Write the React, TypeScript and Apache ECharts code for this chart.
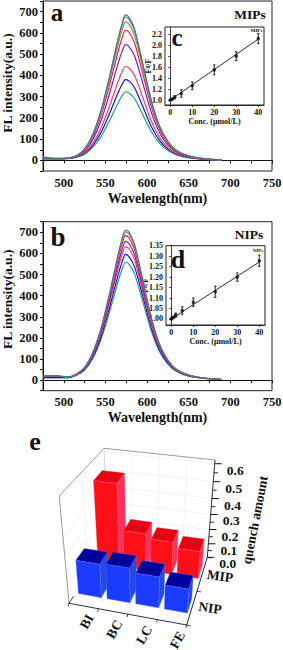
import React, { useEffect, useRef } from "react";
import * as echarts from "echarts";

const FONT = "Liberation Serif";
const wavelengths = [475,490,505,515,525,535,545,555,565,570,574,578,585,595,605,615,625,635,650,670,690];

const mip685 = [9,8,11,22,54,125,240,397,570,645,685,675,617,453,284,161,90,48,21,7,2];
const mip675 = [9,8,11,22,53,123,236,391,561,635,675,665,608,446,280,159,88,47,21,7,2];
const mip652 = [9,8,11,21,51,119,228,378,542,613,652,642,587,431,270,153,85,46,20,7,2];
const mip613 = [15,9,11,20,48,112,214,355,510,577,613,604,552,405,254,145,80,43,19,7,2];
const mip545 = [8,8,10,19,44,100,190,316,454,513,545,537,491,361,227,130,72,39,18,6,2];
const mip443 = [14,9,10,17,37,83,155,257,369,417,443,436,399,294,185,107,60,33,15,6,2];
const mip380 = [8,8,9,16,33,72,134,221,317,358,380,374,342,252,159,93,53,30,14,5,2];
const mip323 = [8,7,8,14,29,62,114,188,269,304,323,318,291,214,136,80,46,26,12,5,2];

const nip712 = [20,20,15,28,60,133,250,412,592,670,712,702,642,472,297,170,95,52,24,9,3];
const nip702 = [20,20,15,28,59,131,247,406,584,661,702,692,633,465,293,168,94,51,24,9,3];
const nip685 = [22,21,15,27,58,128,241,397,570,645,685,675,617,453,286,163,92,50,23,9,3];
const nip658 = [18,18,14,26,56,123,232,381,547,619,658,648,593,435,275,157,88,48,22,9,3];
const nip632 = [22,20,14,25,54,118,223,366,526,595,632,623,570,418,264,151,85,46,21,8,3];
const nip595 = [12,12,12,24,51,111,209,345,495,560,595,586,536,394,249,143,80,44,20,8,3];
const nip558 = [12,12,11,23,48,104,197,323,464,525,558,550,503,369,234,134,76,42,19,8,3];

const mipCurves = [mip323, mip380, mip443, mip545, mip613, mip652, mip675, mip685];
const mipColors = ["#1fa07a", "#1414c8", "#f2405f", "#6a1fd0", "#f01f3f", "#7f9a55", "#6f8f9a", "#566f80"];
const nipCurves = [nip558, nip595, nip632, nip658, nip685, nip702, nip712];
const nipColors = ["#1fa07a", "#1414c8", "#f2405f", "#6a1fd0", "#f01f3f", "#7f9a70", "#566f80"];

const conc = [0, 0.5, 1, 2, 5, 10, 20, 30, 40];
const f0fMip = [1.0, 1.01, 1.02, 1.05, 1.12, 1.26, 1.55, 1.8, 2.12];
const errMip = [0.01, 0.01, 0.015, 0.03, 0.07, 0.07, 0.09, 0.08, 0.09];
const fitMip = [[0, 1.0], [40, 2.11]];
const f0fNip = [1.0, 1.005, 1.008, 1.018, 1.04, 1.08, 1.13, 1.2, 1.278];
const errNip = [0.003, 0.003, 0.005, 0.01, 0.018, 0.02, 0.027, 0.02, 0.027];
const fitNip = [[0, 1.0], [40, 1.272]];

const compounds = ["BI", "BC", "LC", "FE"];
const mipQuench = [0.53, 0.25, 0.22, 0.185];
const nipQuench = [0.22, 0.225, 0.2, 0.155];
const depthNames = ["NIP", "MIP"];
const quenchTicks = [0, 0.1, 0.2, 0.3, 0.4, 0.5, 0.6];

// 3D frame of panel e, in page pixels
const Q = {
  flb: [69, 603.3], frb: [186.7, 625], brb: [207.3, 557.3], blb: [107.8, 543],
  flt: [59.3, 496], frt: [193.3, 513], brt: [215, 460], blt: [104, 448.3],
};
const W_MAX = 0.62;
const mix = (a: number[], b: number[], t: number) => [a[0] + (b[0] - a[0]) * t, a[1] + (b[1] - a[1]) * t];
const persp = (t: number) => (t * (1 - 0.162)) / (1 - 0.162 * t);
function project(u: number, v: number, t: number) {
  const h = persp(t);
  const bottom = mix(mix(Q.flb, Q.frb, u), mix(Q.blb, Q.brb, u), v);
  const top = mix(mix(Q.flt, Q.frt, u), mix(Q.blt, Q.brt, u), v);
  return mix(bottom, top, h);
}

const E_GRID = { left: 69, top: 458, width: 118, height: 100 };
const DEPTH_RANGE: Record<number, number[]> = { 0: [0.17, 0.38], 1: [0.68, 0.88] };
const BAR_COLORS: Record<number, { front: string; top: string; side: string; edge: string }> = {
  0: { front: "#1a3cff", top: "#00009a", side: "#2648e8", edge: "#5a6ae0" },
  1: { front: "#ff1018", top: "#e60014", side: "#ff2f62", edge: "#e0505a" },
};

function renderBar(params: any, api: any) {
  const cat = api.value(0);
  const value = api.value(1);
  const row = api.value(2);
  const [gx0] = api.coord([cat + 0.1, 0]);
  const [gx1, gy] = api.coord([cat + 0.9, value]);
  const u0 = (gx0 - E_GRID.left) / E_GRID.width;
  const u1 = (gx1 - E_GRID.left) / E_GRID.width;
  const t = (E_GRID.top + E_GRID.height - gy) / E_GRID.height;
  const [v0, v1] = DEPTH_RANGE[row];
  const c = BAR_COLORS[row];
  const face = (pts: number[][], fill: string) => ({
    type: "polygon",
    shape: { points: pts },
    style: { fill, stroke: c.edge, lineWidth: 0.4 },
  });
  return {
    type: "group",
    children: [
      face([project(u1, v0, 0), project(u1, v1, 0), project(u1, v1, t), project(u1, v0, t)], c.side),
      face([project(u0, v0, t), project(u1, v0, t), project(u1, v1, t), project(u0, v1, t)], c.top),
      face([project(u0, v0, 0), project(u1, v0, 0), project(u1, v0, t), project(u0, v0, t)], c.front),
    ],
  };
}

function renderError(params: any, api: any) {
  const x = api.value(0);
  const y = api.value(1);
  const e = api.value(2);
  const a = api.coord([x, y - e]);
  const b = api.coord([x, y + e]);
  const st = { stroke: "#111", lineWidth: 0.9 };
  const line = (x1: number, y1: number, x2: number, y2: number) => ({ type: "line", shape: { x1, y1, x2, y2 }, style: st });
  return {
    type: "group",
    children: [line(a[0], a[1], b[0], b[1]), line(a[0] - 1.2, a[1], a[0] + 1.2, a[1]), line(b[0] - 1.2, b[1], b[0] + 1.2, b[1])],
  };
}

function seg(p: number[], q: number[], stroke: string, lineWidth: number) {
  return { type: "line", z: 1, silent: true, shape: { x1: p[0], y1: p[1], x2: q[0], y2: q[1] }, style: { stroke, lineWidth } };
}
function label(text: string, x: number, y: number, size: number, rotation = 0, extra: any = {}) {
  return {
    type: "text", z: 20, x, y, rotation: (rotation * Math.PI) / 180,
    style: { text, font: `bold ${size}px "${FONT}"`, fill: "#111", textAlign: "center", textVerticalAlign: "middle", ...extra },
  };
}

function panelEGraphics() {
  const out: any[] = [];
  const G = "#e6edf3";
  for (const w of quenchTicks) {
    const t = w / W_MAX;
    out.push(seg(project(0, 1, t), project(1, 1, t), G, 0.7));
    out.push(seg(project(0, 0, t), project(0, 1, t), G, 0.7));
  }
  compounds.forEach((_, i) => {
    const u = (i + 1) / compounds.length;
    out.push(seg(project(u, 1, 0), project(u, 1, 1), G, 0.7));
    out.push(seg(project(u, 0, 0), project(u, 1, 0), G, 0.7));
  });
  depthNames.forEach((_, i) => {
    const v = (i + 1) / depthNames.length;
    out.push(seg(project(0, v, 0), project(0, v, 1), G, 0.7));
    out.push(seg(project(0, v, 0), project(1, v, 0), G, 0.7));
  });
  const frame = "#8a8f94";
  out.push(seg(project(0, 0, 0), project(0, 0, 1), frame, 0.9));
  out.push(seg(project(0, 0, 1), project(0, 1, 1), frame, 0.9));
  out.push(seg(project(0, 1, 1), project(1, 1, 1), frame, 0.9));
  out.push(seg(project(0, 1, 1), project(0, 1, 0), "#c8ccd0", 0.7));
  out.push(seg(project(1, 1, 1), project(1, 1, 0), "#222", 0.9));
  // front axes
  const axis = "#14143c";
  out.push(seg(project(0, 0, 0), project(1, 0, 0), axis, 0.9));
  out.push(seg(project(1, 0, 0), project(1, 1, 0), axis, 0.9));
  out.push(seg(project(0, 0, 0), project(0, 0.12, 0), axis, 0.8));
  for (let i = 0; i <= compounds.length; i++) {
    const p = project(i / compounds.length, 0, 0);
    out.push(seg(p, [p[0] - 0.8, p[1] + 3], axis, 0.8));
  }
  for (let i = 0; i <= depthNames.length; i++) {
    const p = project(1, i / depthNames.length, 0);
    out.push(seg(p, [p[0] + 4, p[1] + 0.8], axis, 0.8));
  }
  quenchTicks.forEach((w, i) => {
    const p = project(1, 1, w / W_MAX);
    out.push(seg(p, [p[0] + 7, p[1]], "#111", 1));
    if (i < quenchTicks.length - 1) {
      const m = project(1, 1, (w + 0.05) / W_MAX);
      out.push(seg(m, [m[0] + 4, m[1]], "#111", 0.9));
    }
    out.push(label(w.toFixed(1), p[0] + 20.5, p[1] + 6.5, 13.5));
  });
  const catPos = [[86.7, 621.7], [114.3, 629.3], [144, 635], [177.3, 640]];
  compounds.forEach((c, i) => out.push(label(c, catPos[i][0], catPos[i][1], 13.5, 60)));
  out.push(label("MIP", 220, 576, 13.5, -8));
  out.push(label("NIP", 210, 608, 13.5, -8));
  out.push(label("quench amount", 255, 520, 13.5, 79));
  return out;
}

const tickFmt = (step: number) => (v: number) => (Math.abs(v % step) < 1e-6 ? String(v) : "");

function mainAxes(gridIndex: number, nameShift: number) {
  return {
    x: {
      type: "value", gridIndex, min: 475, max: 750, interval: 25,
      name: "Wavelength(nm)", nameLocation: "middle", nameGap: 20, nameMoveOverlap: false,
      nameTextStyle: { fontFamily: FONT, fontWeight: "bold", fontSize: 14, color: "#111" },
      axisLine: { lineStyle: { color: "#111", width: 1 } },
      axisTick: { length: 3, lineStyle: { color: "#111", width: 1 } },
      splitLine: { show: false },
      axisLabel: { formatter: tickFmt(50), fontFamily: FONT, fontWeight: "bold", fontSize: 12.5, color: "#111", margin: 5, hideOverlap: false, showMinLabel: true, showMaxLabel: true },
    },
    y: {
      type: "value", gridIndex, min: -50, max: 750, interval: 50,
      name: "FL intensity(a.u.)", nameLocation: "middle", nameGap: 29, nameMoveOverlap: false,
      nameTextStyle: { fontFamily: FONT, fontWeight: "bold", fontSize: 13.5, color: "#111", padding: [0, 0, 0, nameShift] },
      axisLine: { lineStyle: { color: "#111", width: 1 } },
      axisTick: { length: 3, lineStyle: { color: "#111", width: 1 } },
      splitLine: { show: false },
      axisLabel: { formatter: tickFmt(100), fontFamily: FONT, fontWeight: "bold", fontSize: 12.5, color: "#111", margin: 5 },
    },
  };
}

function insetAxes(gridIndex: number, yMin: number, yMax: number, yTicks: number[], digits: number, nameGap: number, xNameGap: number) {
  return {
    x: {
      type: "value", gridIndex, min: -2.4, max: 42.6,
      name: "Conc. (μmol/L)", nameLocation: "middle", nameGap: xNameGap, nameMoveOverlap: false,
      nameTextStyle: { fontFamily: FONT, fontWeight: "bold", fontSize: 8, color: "#111" },
      axisLine: { lineStyle: { color: "#111", width: 0.8 } },
      axisTick: { length: 2, lineStyle: { color: "#111", width: 0.8 }, customValues: [0, 10, 20, 30, 40] },
      splitLine: { show: false },
      axisLabel: { customValues: [0, 10, 20, 30, 40], fontFamily: FONT, fontWeight: "bold", fontSize: 8, color: "#111", margin: 3 },
    },
    y: {
      type: "value", gridIndex, min: yMin, max: yMax,
      name: "{a|F}{b|0}{a|/F}", nameLocation: "middle", nameGap, nameMoveOverlap: false,
      nameTextStyle: { rich: { a: { fontFamily: FONT, fontWeight: "bold", fontSize: 8, color: "#111" }, b: { fontFamily: FONT, fontWeight: "bold", fontSize: 6, color: "#111" } } },
      axisLine: { lineStyle: { color: "#111", width: 0.8 } },
      axisTick: { length: 2, lineStyle: { color: "#111", width: 0.8 }, customValues: yTicks },
      splitLine: { show: false },
      axisLabel: { customValues: yTicks, formatter: (v: number) => v.toFixed(digits), fontFamily: FONT, fontWeight: "bold", fontSize: 8, color: "#111", margin: 3 },
    },
  };
}

export default function App() {
  const ref = useRef<HTMLDivElement>(null);
  useEffect(() => {
    const chart = echarts.init(ref.current!, undefined, { renderer: "svg" });
    const a = mainAxes(0, 6), b = mainAxes(1, 14);
    const c = insetAxes(2, 0.91, 2.33, [1, 1.2, 1.4, 1.6, 1.8, 2, 2.2], 1, 13, 12);
    const d = insetAxes(3, 0.971, 1.35, [1, 1.05, 1.1, 1.15, 1.2, 1.25, 1.3, 1.35], 2, 17, 12);
    const curve = (ys: number[], color: string, idx: number) => ({
      type: "line", xAxisIndex: idx, yAxisIndex: idx, showSymbol: false, smooth: 0.25, silent: true,
      data: wavelengths.map((w, i) => [w, ys[i]]), lineStyle: { color, width: 1.2 },
    });
    const insetSeries = (idx: number, ys: number[], errs: number[], fit: number[][]) => [
      { type: "line", xAxisIndex: idx, yAxisIndex: idx, showSymbol: false, silent: true, data: fit, lineStyle: { color: "#111", width: 0.9 } },
      { type: "scatter", xAxisIndex: idx, yAxisIndex: idx, symbolSize: 3.6, silent: true, itemStyle: { color: "#111" }, data: conc.map((x, i) => [x, ys[i]]) },
      { type: "custom", xAxisIndex: idx, yAxisIndex: idx, silent: true, clip: false, renderItem: renderError, encode: { x: 0, y: 1 }, data: conc.map((x, i) => [x, ys[i], errs[i]]) },
    ];
    const box = { show: true, borderColor: "#222", borderWidth: 1, outerBoundsMode: "none" };
    chart.setOption({
      animation: false,
      backgroundColor: "#fff",
      grid: [
        { left: 43, top: 1, width: 229, height: 170, ...box },
        { left: 43, top: 221.7, width: 229, height: 169, ...box },
        { left: 165, top: 27, width: 99, height: 78, ...box },
        { left: 166, top: 245.7, width: 99, height: 79.3, ...box },
        { ...E_GRID, show: false, outerBoundsMode: "none" },
      ],
      xAxis: [a.x, b.x, c.x, d.x, { type: "value", gridIndex: 4, min: 0, max: compounds.length, show: false }],
      yAxis: [a.y, b.y, c.y, d.y, { type: "value", gridIndex: 4, min: 0, max: W_MAX, show: false }],
      series: [
        ...mipCurves.map((ys, i) => curve(ys, mipColors[i], 0)),
        ...nipCurves.map((ys, i) => curve(ys, nipColors[i], 1)),
        ...insetSeries(2, f0fMip, errMip, fitMip),
        ...insetSeries(3, f0fNip, errNip, fitNip),
        {
          type: "custom", xAxisIndex: 4, yAxisIndex: 4, z: 5, silent: true, clip: false, renderItem: renderBar,
          encode: { x: 0, y: 1 },
          data: mipQuench.map((v, i) => [i, v, 1]),
        },
        {
          type: "custom", xAxisIndex: 4, yAxisIndex: 4, z: 6, silent: true, clip: false, renderItem: renderBar,
          encode: { x: 0, y: 1 },
          data: nipQuench.map((v, i) => [i, v, 0]),
        },
      ],
      graphic: { elements: [
        ...panelEGraphics(),
        label("a", 57, 12.5, 25),
        label("b", 58, 237, 27),
        label("c", 177, 37.5, 25),
        label("d", 178, 259, 26),
        label("e", 35, 441, 26),
        label("MIPs", 250, 14, 13.5),
        label("NIPs", 249, 234, 13.5),
        label("MIPs", 256.5, 30, 5),
        label("NIPs", 258, 250, 5),
      ] },
    });
    return () => chart.dispose();
  }, []);
  return <div ref={ref} style={{ position: "absolute", left: 0, top: 0, width: 283, height: 650 }} />;
}
